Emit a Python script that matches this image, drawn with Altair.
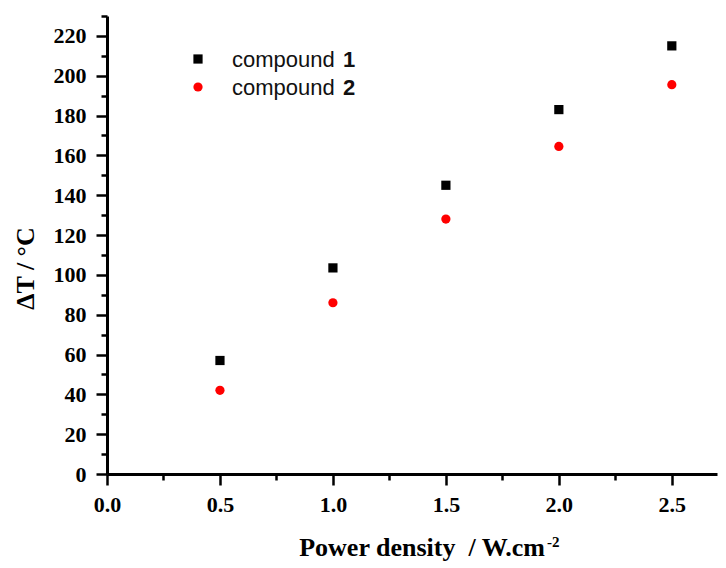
import altair as alt
import pandas as pd

# ---- data ----
power = [0.5, 1.0, 1.5, 2.0, 2.5]
compound1 = [57, 103.5, 145, 183, 215]
compound2 = [42, 86, 128, 164.5, 195.5]
series_names = ["compound 1", "compound 2"]

x_ticks = [0, 0.25, 0.5, 0.75, 1.0, 1.25, 1.5, 1.75, 2.0, 2.25, 2.5]
y_ticks = list(range(0, 231, 10))

df = pd.DataFrame({
    "power": power + power,
    "dT": compound1 + compound2,
    "series": [series_names[0]] * len(power) + [series_names[1]] * len(power),
})

W, H = 610, 458

points = alt.Chart(df).mark_point(filled=True, opacity=1, size=85).encode(
    x=alt.X("power:Q",
            scale=alt.Scale(domain=[0, 2.7], nice=False, zero=False),
            axis=alt.Axis(
                values=x_ticks,
                title=None,
                labelExpr="round(datum.value*100) % 50 === 0 ? format(datum.value, '.1f') : ''",
                tickSize={"condition": {"test": "round(datum.value*100) % 50 === 0", "value": 11}, "value": 6},
                labelPadding=9,
                labelFlush=False,
                labelOverlap=False,
                labelBound=False,
            )),
    y=alt.Y("dT:Q",
            scale=alt.Scale(domain=[0, 230], nice=False),
            axis=alt.Axis(
                values=y_ticks,
                title="ΔT / °C",
                titleFont="Liberation Serif",
                titleFontWeight="bold",
                titleFontSize=26,
                titleColor="black",
                titleAngle=270,
                titleAlign="center",
                titleBaseline="middle",
                titleX=-82,
                titleY=252,
                labelExpr="datum.value % 20 === 0 ? datum.label : ''",
                tickSize={"condition": {"test": "datum.value % 20 === 0", "value": 11}, "value": 6},
                labelPadding=10,
                labelOverlap=False,
                labelFlush=False,
            )),
    color=alt.Color("series:N",
                    scale=alt.Scale(domain=series_names, range=["#000000", "#ff0000"]),
                    legend=None),
    shape=alt.Shape("series:N",
                    scale=alt.Scale(domain=series_names, range=["square", "circle"]),
                    legend=None),
)

# ---- manual legend ----
def one(val):
    return pd.DataFrame({"t": [val]})

leg_sq = alt.Chart(one("a")).mark_point(shape="square", filled=True, color="#000000", size=85, opacity=1).encode(
    x=alt.value(91), y=alt.value(43))
leg_ci = alt.Chart(one("b")).mark_point(shape="circle", filled=True, color="#ff0000", size=85, opacity=1).encode(
    x=alt.value(91), y=alt.value(71))

txt = dict(align="left", baseline="middle", font="Liberation Sans", fontSize=22, color="#111111")
leg_t1 = alt.Chart(one("compound")).mark_text(**txt).encode(
    text="t:N", x=alt.value(125), y=alt.value(44))
leg_t2 = alt.Chart(one("compound")).mark_text(**txt).encode(
    text="t:N", x=alt.value(125), y=alt.value(72))
leg_n1 = alt.Chart(one("1")).mark_text(fontWeight="bold", **txt).encode(
    text="t:N", x=alt.value(236), y=alt.value(44))
leg_n2 = alt.Chart(one("2")).mark_text(fontWeight="bold", **txt).encode(
    text="t:N", x=alt.value(236), y=alt.value(72))

# ---- x-axis title with superscript ----
xtitle = alt.Chart(one("Power density\u00a0\u00a0/ W.cm")).mark_text(
    align="right", baseline="alphabetic", font="Liberation Serif", fontSize=26,
    fontWeight="bold", color="black").encode(
    text="t:N", x=alt.value(438), y=alt.value(540))
xsup = alt.Chart(one("-2")).mark_text(
    align="left", baseline="alphabetic", font="Liberation Serif", fontSize=15,
    fontWeight="bold", color="black").encode(
    text="t:N", x=alt.value(440), y=alt.value(531))

chart = alt.layer(points, leg_sq, leg_ci, leg_t1, leg_t2, leg_n1, leg_n2, xtitle, xsup).properties(
    width=W, height=H,
    autosize=alt.AutoSizeParams(type="none"),
    padding={"left": 99, "top": 8, "right": 1, "bottom": 93},
).configure_view(stroke=None).configure_axis(
    grid=False,
    domainColor="black",
    domainWidth=3,
    tickColor="black",
    tickWidth=2.5,
    labelFont="Liberation Serif",
    labelFontWeight="bold",
    labelFontSize=22,
    labelColor="black",
)

chart.save("out.html", embed_options={"renderer": "svg", "actions": False})
